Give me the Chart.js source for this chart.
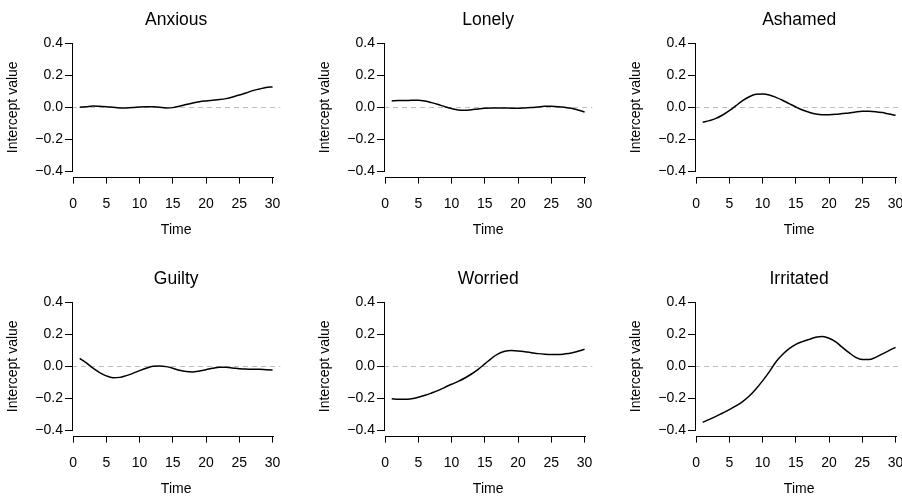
<!DOCTYPE html>
<html>
<head>
<meta charset="utf-8">
<script src="https://cdn.jsdelivr.net/npm/chart.js@4.4.1/dist/chart.umd.min.js"></script>
<style>
  html, body { margin: 0; padding: 0; background: #fff; overflow: hidden; }
  #wrap { position: relative; width: 902px; height: 496px; }
  #wrap canvas { position: absolute; }
</style>
</head>
<body>
<div id="wrap"></div>
<script>
// panel titles, in mfrow order
const panelNames = ['Anxious', 'Lonely', 'Ashamed', 'Guilty', 'Worried', 'Irritated'];

// time points 1..30
const timePoints = [1, 2, 3, 4, 5, 6, 7, 8, 9, 10, 11, 12, 13, 14, 15,
                    16, 17, 18, 19, 20, 21, 22, 23, 24, 25, 26, 27, 28, 29, 30];

// intercept values
const anxious = [0.000, 0.004, 0.008, 0.006, 0.004, 0.000, -0.004, -0.004, -0.002, 0.002,
                 0.004, 0.004, 0.000, -0.004, -0.002, 0.006, 0.017, 0.027, 0.035, 0.040,
                 0.044, 0.048, 0.054, 0.064, 0.077, 0.089, 0.104, 0.114, 0.123, 0.127];
const lonely = [0.039, 0.042, 0.042, 0.044, 0.044, 0.039, 0.029, 0.017, 0.004, -0.008,
                -0.017, -0.019, -0.015, -0.010, -0.006, -0.004, -0.004, -0.004, -0.006, -0.006,
                -0.004, -0.002, 0.002, 0.006, 0.006, 0.004, 0.000, -0.006, -0.017, -0.029];
const ashamed = [-0.094, -0.083, -0.069, -0.048, -0.021, 0.010, 0.042, 0.066, 0.081, 0.083,
                 0.077, 0.062, 0.044, 0.023, 0.002, -0.017, -0.031, -0.042, -0.046, -0.046,
                 -0.044, -0.039, -0.035, -0.029, -0.025, -0.025, -0.027, -0.033, -0.042, -0.050];
const guilty = [0.050, 0.021, -0.012, -0.039, -0.060, -0.071, -0.069, -0.058, -0.044, -0.027,
                -0.012, 0.000, 0.002, -0.002, -0.012, -0.025, -0.033, -0.035, -0.029, -0.021,
                -0.012, -0.006, -0.006, -0.010, -0.015, -0.017, -0.019, -0.019, -0.021, -0.023];
const worried = [-0.202, -0.206, -0.206, -0.202, -0.193, -0.181, -0.166, -0.150, -0.131, -0.112,
                 -0.094, -0.073, -0.048, -0.019, 0.015, 0.050, 0.077, 0.094, 0.098, 0.096,
                 0.091, 0.085, 0.079, 0.075, 0.073, 0.073, 0.077, 0.083, 0.094, 0.106];
const irritated = [-0.349, -0.331, -0.312, -0.291, -0.270, -0.247, -0.220, -0.185, -0.141, -0.091,
                   -0.035, 0.027, 0.073, 0.110, 0.137, 0.154, 0.168, 0.181, 0.185, 0.175,
                   0.152, 0.118, 0.085, 0.056, 0.042, 0.042, 0.056, 0.077, 0.098, 0.118];

const panelSeries = [anxious, lonely, ashamed, guilty, worried, irritated];

// axis ticks
const xTicks = [0, 5, 10, 15, 20, 25, 30];
const yTicks = [-0.4, -0.2, 0, 0.2, 0.4];
const refLine = 0;   // dashed grey reference line

// R style 4% extension of the axis ranges
const xSpan = timePoints[timePoints.length - 1] - timePoints[0];
const xMin = timePoints[0] - 0.04 * xSpan;
const xMax = timePoints[timePoints.length - 1] + 0.04 * xSpan;
const ySpan = yTicks[yTicks.length - 1] - yTicks[0];
const yMin = yTicks[0] - 0.04 * ySpan;
const yMax = yTicks[yTicks.length - 1] + 0.04 * ySpan;

// where each canvas sits on the page
const colLeft = [0, 312, 623];
const rowTop = [-2, 257];

Chart.defaults.font.family = '"Liberation Sans", Arial, Helvetica, sans-serif';
Chart.defaults.color = '#000';

// draws the R style axis lines (only between first and last tick) and the zero line
const rAxes = {
  id: 'rAxes',
  beforeDatasetsDraw(chart) {
    const { ctx, chartArea, scales } = chart;
    const y0 = Math.round(scales.y.getPixelForValue(refLine)) + 0.5;
    ctx.save();
    ctx.strokeStyle = '#bebebe';
    ctx.lineWidth = 1;
    ctx.setLineDash([5, 4]);
    ctx.beginPath();
    ctx.moveTo(chartArea.left, y0);
    ctx.lineTo(chartArea.right, y0);
    ctx.stroke();
    ctx.restore();
  },
  afterDraw(chart) {
    const { ctx, chartArea, scales } = chart;
    const bx = Math.round(chartArea.bottom) + 0.5;
    const lx = Math.round(chartArea.left) + 0.5;
    ctx.save();
    ctx.strokeStyle = '#000';
    ctx.lineWidth = 1;
    ctx.beginPath();
    ctx.moveTo(Math.round(scales.x.getPixelForValue(xTicks[0])), bx);
    ctx.lineTo(Math.round(scales.x.getPixelForValue(xTicks[xTicks.length - 1])) + 1, bx);
    ctx.moveTo(lx, Math.round(scales.y.getPixelForValue(yTicks[yTicks.length - 1])));
    ctx.lineTo(lx, Math.round(scales.y.getPixelForValue(yTicks[0])) + 1);
    ctx.stroke();
    ctx.restore();
  }
};

const wrap = document.getElementById('wrap');

panelNames.forEach((name, i) => {
  const col = i % 3;
  const row = Math.floor(i / 3);
  const canvas = document.createElement('canvas');
  canvas.width = 300;
  canvas.height = 250;
  canvas.style.left = colLeft[col] + 'px';
  canvas.style.top = rowTop[row] + 'px';
  canvas.style.width = '300px';
  canvas.style.height = '250px';
  wrap.appendChild(canvas);

  const points = timePoints.map((t, k) => ({ x: t, y: panelSeries[i][k] }));

  new Chart(canvas.getContext('2d'), {
    type: 'line',
    data: {
      datasets: [{
        data: points,
        borderColor: '#000',
        borderWidth: 1.5,
        pointRadius: 0,
        fill: false,
        cubicInterpolationMode: 'monotone'
      }]
    },
    options: {
      responsive: false,
      animation: false,
      devicePixelRatio: 1,
      layout: { padding: { left: 4.6, top: 0, right: 19.7, bottom: 9 } },
      plugins: { legend: { display: false }, tooltip: { enabled: false } },
      scales: {
        x: {
          type: 'linear',
          min: xMin,
          max: xMax,
          afterBuildTicks: s => { s.ticks = xTicks.map(v => ({ value: v })); },
          afterFit: s => { s.height = 62.4; },
          border: { display: false },
          grid: { display: true, drawOnChartArea: false, drawTicks: true, tickLength: 7, tickColor: '#000', lineWidth: 1 },
          ticks: { font: { size: 14 }, padding: 12, maxRotation: 0, autoSkip: false, callback: v => String(v) },
          title: { display: true, text: 'Time', font: { size: 14, lineHeight: 1.2 }, padding: 0 }
        },
        top: {
          axis: 'x',
          type: 'linear',
          position: 'top',
          afterFit: s => { s.height = 40; },
          border: { display: false },
          grid: { display: false, drawTicks: false },
          ticks: { display: false },
          title: { display: true, text: name, font: { size: 17.5, lineHeight: 1.2 }, padding: { top: 11.5, bottom: 0 } }
        },
        y: {
          type: 'linear',
          min: yMin,
          max: yMax,
          afterBuildTicks: s => { s.ticks = yTicks.map(v => ({ value: v })); },
          afterFit: s => { s.width = 67.4; },
          border: { display: false },
          grid: { display: true, drawOnChartArea: false, drawTicks: true, tickLength: 7, tickColor: '#000', lineWidth: 1 },
          ticks: { font: { size: 14 }, padding: 2, callback: v => v.toFixed(1).replace('-', '\u2212') },
          title: { display: true, text: 'Intercept value', font: { size: 14, lineHeight: 1.2 }, padding: 0 }
        }
      }
    },
    plugins: [rAxes]
  });
});
</script>
</body>
</html>
